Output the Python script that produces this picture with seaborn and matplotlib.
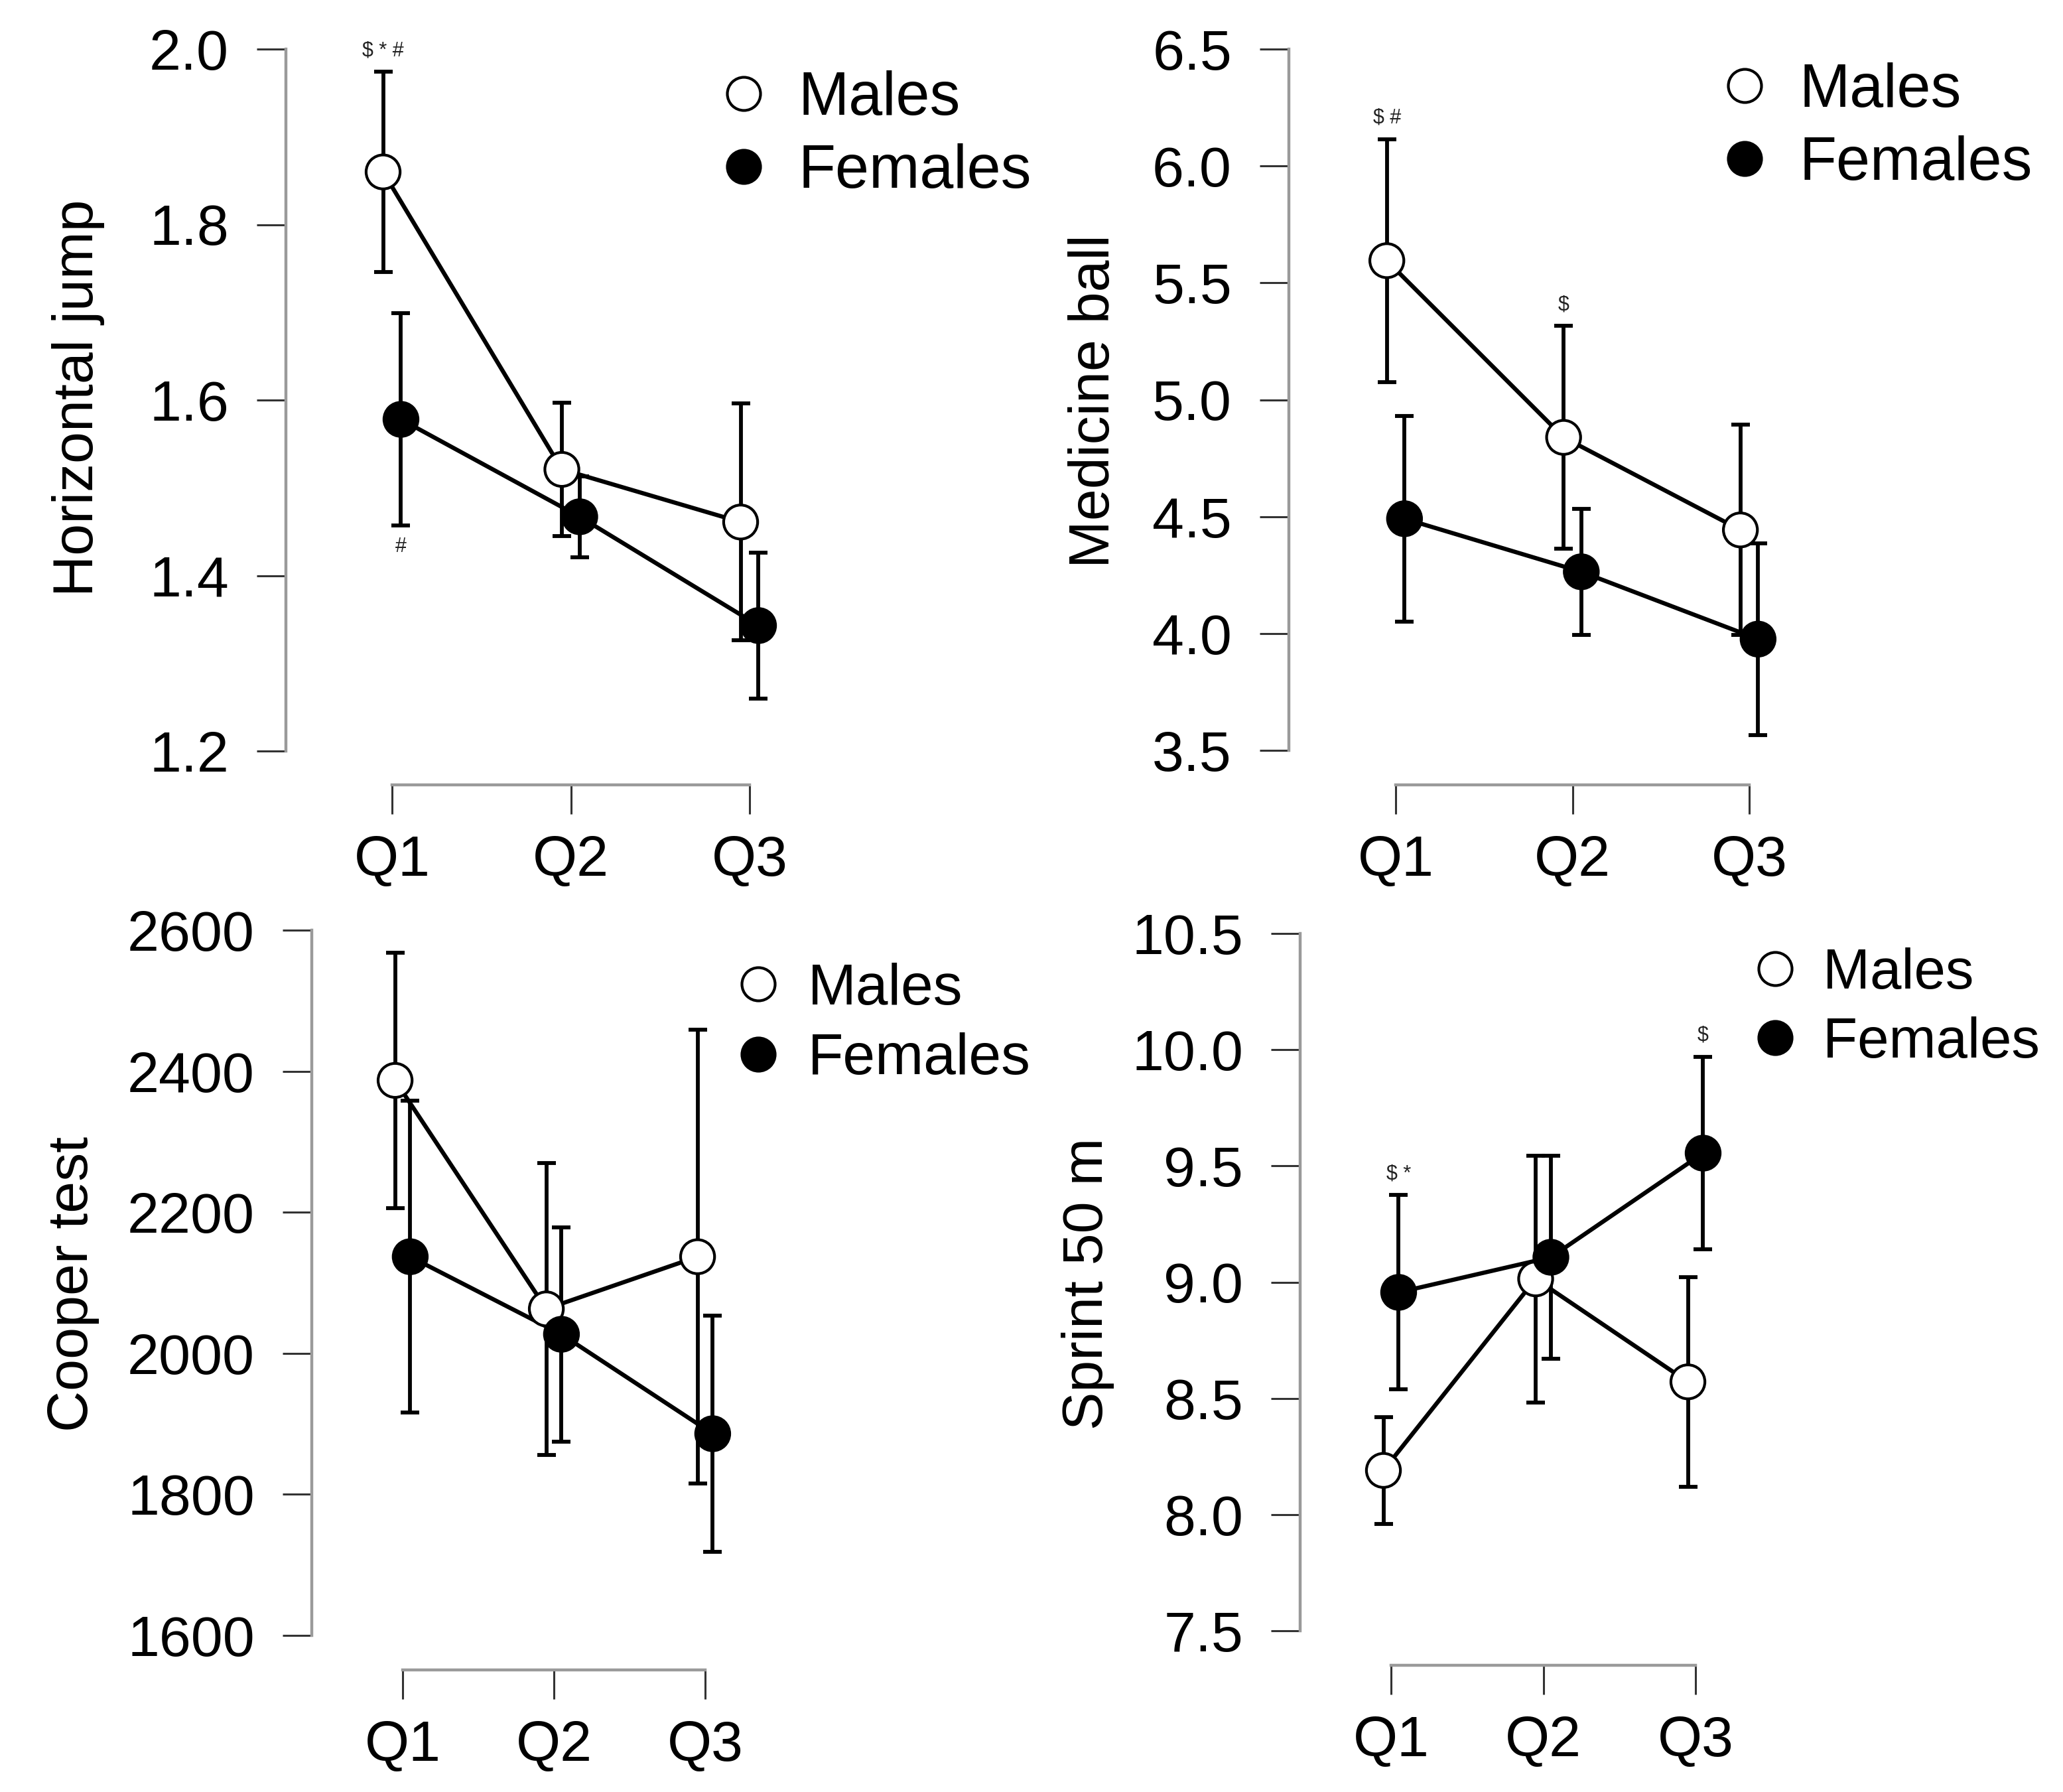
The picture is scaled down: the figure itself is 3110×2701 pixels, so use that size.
import numpy as np
import pandas as pd
import matplotlib
matplotlib.use('Agg')
import matplotlib.pyplot as plt
import seaborn as sns
from matplotlib.lines import Line2D

# Group means and SDs
quarters = ['Q1', 'Q2', 'Q3']

jump_m = [1.860, 1.521, 1.461]
jump_m_sd = [0.114, 0.076, 0.135]
jump_f = [1.578, 1.467, 1.343]
jump_f_sd = [0.121, 0.046, 0.083]

ball_m = [5.595, 4.839, 4.443]
ball_m_sd = [0.520, 0.477, 0.450]
ball_f = [4.491, 4.264, 3.976]
ball_f_sd = [0.440, 0.270, 0.410]

cooper_m = [2387, 2063, 2137]
cooper_m_sd = [181, 207, 322]
cooper_f = [2137, 2027, 1886]
cooper_f_sd = [221, 152, 167]

sprint_m = [8.190, 9.014, 8.571]
sprint_m_sd = [0.230, 0.531, 0.451]
sprint_f = [8.956, 9.107, 9.555]
sprint_f_sd = [0.418, 0.436, 0.415]

# significance marks: (quarter, sex, text, above/below)
jump_notes = [('Q1', 'Males', '$ * #', 'above'), ('Q1', 'Females', '#', 'below')]
ball_notes = [('Q1', 'Males', '$ #', 'above'), ('Q2', 'Males', '$', 'above')]
cooper_notes = []
sprint_notes = [('Q1', 'Females', '$ *', 'above'), ('Q3', 'Females', '$', 'above')]

W, H = 3110, 2701
DPI = 200

sns.set_theme(style='ticks')
plt.rcParams['font.family'] = ['Liberation Sans', 'DejaVu Sans']
plt.rcParams['text.color'] = 'black'
plt.rcParams['axes.labelcolor'] = 'black'

fig = plt.figure(figsize=(W / DPI, H / DPI), dpi=DPI)
fig.patch.set_facecolor('white')

FS = 31
shift = {'Males': -0.05, 'Females': 0.05}


def draw_panel(geo, males, males_sd, females, females_sd, ylabel, yticks, fmt, notes, leg, lab):
    left, q1, q3, bottom, ylo_px, yhi_px, top, right = geo
    ax = fig.add_axes([left / W, 1 - bottom / H, (right - left) / W, (bottom - top) / H])
    ax.set_facecolor('none')

    df = pd.DataFrame({
        'quarter': quarters * 2,
        'sex': ['Males'] * 3 + ['Females'] * 3,
        'value': males + females,
        'sd': males_sd + females_sd,
    })
    df['pos'] = df['quarter'].map({q: i + 1 for i, q in enumerate(quarters)}) + df['sex'].map(shift)

    for sex, g in df.groupby('sex'):
        ax.errorbar(g['pos'], g['value'], yerr=g['sd'], fmt='none', ecolor='black',
                    elinewidth=2.1, capsize=5, capthick=2.1, zorder=1)
    sns.lineplot(data=df, x='pos', y='value', units='sex', estimator=None, color='black',
                 lw=2.3, ax=ax, zorder=2, legend=False)
    sns.scatterplot(data=df, x='pos', y='value', hue='sex',
                    palette={'Males': 'white', 'Females': 'black'},
                    edgecolor='black', linewidth=1.5, s=340, ax=ax, zorder=3, legend=False)

    for q, sex, txt, side in notes:
        row = df[(df['quarter'] == q) & (df['sex'] == sex)].iloc[0]
        if side == 'above':
            y = row['value'] + row['sd']
            off = 11.5
        else:
            y = row['value'] - row['sd']
            off = -11.5
        ax.annotate(txt, xy=(row['pos'], y), xytext=(0, off), textcoords='offset points',
                    ha='center', va='center', fontsize=11, color='#222222')

    # limits so that the axis lines land where they sit in the original
    ux = (q3 - q1) / 2
    ax.set_xlim(1 - (q1 - left) / ux, 3 + (right - q3) / ux)
    uy = (ylo_px - yhi_px) / (yticks[-1] - yticks[0])
    ax.set_ylim(yticks[0] - (bottom - ylo_px) / uy, yticks[-1] + (yhi_px - top) / uy)

    ax.set_xticks([1, 2, 3])
    ax.set_xticklabels(quarters)
    ax.set_yticks(yticks)
    ax.set_yticklabels([fmt.format(t) for t in yticks])
    ax.set_xlabel('')
    ax.set_ylabel(ylabel, fontsize=FS, va='center', color='black')
    ax.yaxis.set_label_coords(lab[0] / W, 1 - lab[1] / H, transform=fig.transFigure)

    sns.despine(ax=ax)
    ax.spines['left'].set_bounds(yticks[0], yticks[-1])
    ax.spines['bottom'].set_bounds(1, 3)
    for s in ['left', 'bottom']:
        ax.spines[s].set_color('#9a9a9a')
        ax.spines[s].set_linewidth(1.6)
    ax.tick_params(axis='both', length=16, width=1.1, color='#333333', labelsize=FS,
                   labelcolor='black')
    ax.tick_params(axis='y', pad=15)
    ax.tick_params(axis='x', pad=11)

    # legend: marker x, row-centre y, font size, marker-text gap
    mx, my, lfs, gap = leg
    handles = [
        Line2D([], [], marker='o', ls='none', markerfacecolor='white', markeredgecolor='black',
               markersize=18, mew=1.5),
        Line2D([], [], marker='o', ls='none', markerfacecolor='black', markeredgecolor='black',
               markersize=18, mew=1.5),
    ]
    hl = 1.0
    fs_px = lfs * DPI / 72
    lg = fig.legend(handles, ['Males', 'Females'], loc='center left',
                    bbox_to_anchor=((mx - 0.5 * hl * fs_px) / W, 1 - my / H),
                    bbox_transform=fig.transFigure, frameon=False, borderpad=0, borderaxespad=0,
                    handlelength=hl, handletextpad=gap, labelspacing=0.25 * 33 / lfs + 0.02,
                    fontsize=lfs)
    for t in lg.get_texts():
        t.set_color('black')
    return ax


# geometry in pixels: y-axis x, Q1 x, Q3 x, x-axis y, low tick y, high tick y, top, right
draw_panel((431, 591, 1130, 1183, 1132, 74, 20, 1560), jump_m, jump_m_sd, jump_f, jump_f_sd,
           'Horizontal jump', [1.2, 1.4, 1.6, 1.8, 2.0], '{:.1f}', jump_notes,
           (1121, 204, 33, 0.4), (118, 600))
draw_panel((1943, 2104, 2637, 1183, 1131, 74, 20, 3100), ball_m, ball_m_sd, ball_f, ball_f_sd,
           'Medicine ball', [3.5, 4.0, 4.5, 5.0, 5.5, 6.0, 6.5], '{:.1f}', ball_notes,
           (2630, 192, 33, 0.4), (1650, 605))
draw_panel((470, 607, 1063, 2517, 2465, 1402, 1360, 1560), cooper_m, cooper_m_sd, cooper_f, cooper_f_sd,
           'Cooper test', [1600, 1800, 2000, 2200, 2400, 2600], '{:.0f}', cooper_notes,
           (1143, 1544, 31.5, 0.36), (110, 1935))
draw_panel((1960, 2097, 2556, 2510, 2458, 1407, 1360, 3100), sprint_m, sprint_m_sd, sprint_f, sprint_f_sd,
           'Sprint 50 m', [7.5, 8.0, 8.5, 9.0, 9.5, 10.0, 10.5], '{:.1f}', sprint_notes,
           (2676, 1520, 30.7, 0.34), (1640, 1935))

fig.savefig('out.png', dpi=DPI, facecolor='white')
